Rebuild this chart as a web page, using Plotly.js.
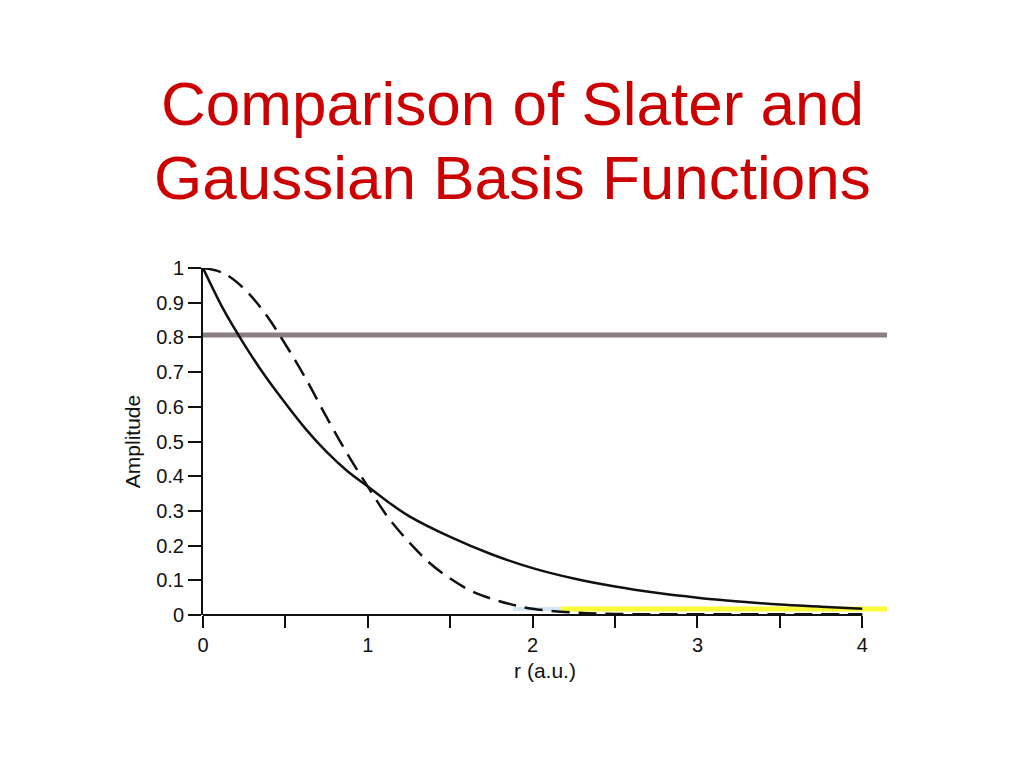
<!DOCTYPE html>
<html>
<head>
<meta charset="utf-8">
<script src="https://cdn.plot.ly/plotly-3.0.1.min.js"></script>
<style>
html,body{margin:0;padding:0;background:#fff;}
#chart{width:1024px;height:768px;}
</style>
</head>
<body>
<div id="chart"></div>
<script>
// Slater-type function (solid)
var slaterR = [0, 0.125, 0.25, 0.375, 0.5, 0.625, 0.75, 0.875, 1, 1.125, 1.25, 1.5, 1.75, 2, 2.25, 2.5, 2.75, 3, 3.25, 3.5, 3.75, 4];
var slaterAmp = [1, 0.88, 0.78, 0.69, 0.61, 0.535, 0.47, 0.415, 0.37, 0.325, 0.285, 0.225, 0.175, 0.135, 0.105, 0.082, 0.064, 0.05, 0.039, 0.03, 0.024, 0.018];
// Gaussian-type function (dashed)
var gaussR = [0, 0.125, 0.25, 0.375, 0.5, 0.625, 0.75, 0.875, 1, 1.125, 1.25, 1.375, 1.5, 1.625, 1.75, 1.875, 2, 2.25, 2.5, 3, 3.5, 4];
var gaussAmp = [1, 0.985, 0.94, 0.87, 0.78, 0.68, 0.57, 0.465, 0.37, 0.28, 0.21, 0.15, 0.105, 0.07, 0.047, 0.03, 0.018, 0.007, 0.003, 0.002, 0.002, 0.002];
// overlay strokes on the slide
var grayBarR = [0, 4.15];
var grayBarAmp = [0.807, 0.807];
var yellowBarR = [2.17, 4.15];
var yellowBarAmp = [0.017, 0.017];
var blueSmearR = [1.88, 2.17];
var blueSmearAmp = [0.017, 0.017];
// ticks
var xTickVals = [0, 0.5, 1, 1.5, 2, 2.5, 3, 3.5, 4];
var xTickText = ['0', '', '1', '', '2', '', '3', '', '4'];
var yTickVals = [0, 0.1, 0.2, 0.3, 0.4, 0.5, 0.6, 0.7, 0.8, 0.9, 1];
var yTickText = ['0', '0.1', '0.2', '0.3', '0.4', '0.5', '0.6', '0.7', '0.8', '0.9', '1'];
var titleLine1 = 'Comparison of Slater and';
var titleLine2 = 'Gaussian Basis Functions';

var traces = [
  {x: grayBarR, y: grayBarAmp, mode: 'lines', line: {color: '#8a7e83', width: 5}, hoverinfo: 'skip'},
  {x: blueSmearR, y: blueSmearAmp, mode: 'lines', line: {color: '#d3e8f2', width: 4}, hoverinfo: 'skip'},
  {x: yellowBarR, y: yellowBarAmp, mode: 'lines', line: {color: '#fbfb3a', width: 5}, hoverinfo: 'skip'},
  {x: slaterR, y: slaterAmp, mode: 'lines', line: {color: '#111', width: 2.5, shape: 'spline', smoothing: 1}, name: 'Slater'},
  {x: gaussR, y: gaussAmp, mode: 'lines', line: {color: '#111', width: 2.5, dash: '18px,9px', shape: 'spline', smoothing: 1}, name: 'Gaussian'}
];

var font = 'Liberation Sans, Arial, Helvetica, sans-serif';
var layout = {
  width: 1024, height: 768,
  paper_bgcolor: '#fff', plot_bgcolor: '#fff',
  showlegend: false,
  margin: {l: 203, r: 137, t: 268, b: 153, pad: 0},
  font: {family: font, color: '#111'},
  xaxis: {
    range: [0, 4.15], showgrid: false, zeroline: false, showline: false,
    tickmode: 'array', tickvals: xTickVals, ticktext: xTickText,
    ticks: 'outside', ticklen: 12, tickwidth: 2, tickcolor: '#111',
    tickfont: {size: 20, family: font, color: '#111'},
    title: {text: 'r (a.u.)', font: {size: 21, family: font, color: '#111'}, standoff: 8}
  },
  yaxis: {
    range: [0, 1], showgrid: false, zeroline: false,
    showline: true, linecolor: '#111', linewidth: 2,
    tickmode: 'array', tickvals: yTickVals, ticktext: yTickText,
    ticks: 'outside', ticklen: 13, tickwidth: 2, tickcolor: '#111',
    tickfont: {size: 20, family: font, color: '#111'},
    title: {text: 'Amplitude', font: {size: 21, family: font, color: '#111'}, standoff: 10}
  },
  shapes: [
    {type: 'line', xref: 'x', yref: 'paper', x0: 0, x1: 4, y0: 0, y1: 0, line: {color: '#111', width: 2}, layer: 'above'}
  ],
  annotations: [
    {text: titleLine1, xref: 'paper', yref: 'paper', x: (512 - 203) / 684, y: (615 - 103) / 347,
     xanchor: 'center', yanchor: 'middle', showarrow: false,
     font: {size: 62, family: font, color: '#cc0000'}},
    {text: titleLine2, xref: 'paper', yref: 'paper', x: (512 - 203) / 684, y: (615 - 178) / 347,
     xanchor: 'center', yanchor: 'middle', showarrow: false,
     font: {size: 62, family: font, color: '#cc0000'}}
  ]
};

Plotly.newPlot('chart', traces, layout, {displayModeBar: false, staticPlot: true});
</script>
</body>
</html>
